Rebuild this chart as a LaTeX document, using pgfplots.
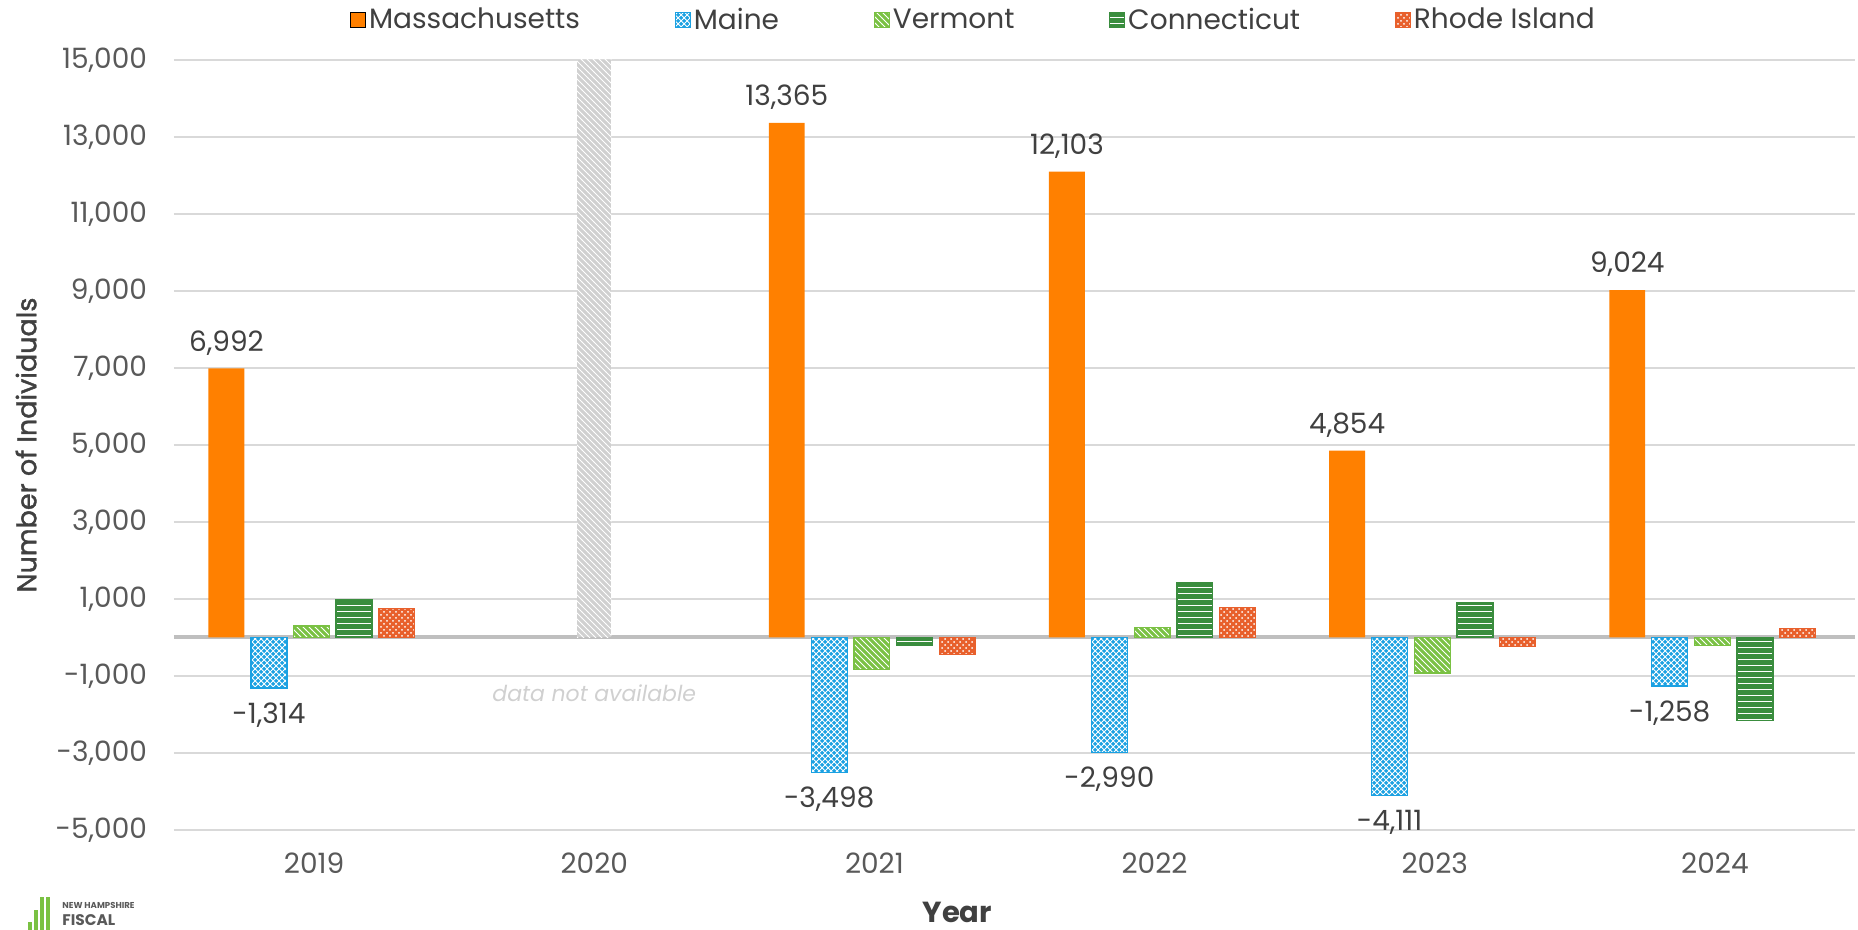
\documentclass[border=0pt]{standalone}
\usepackage{pgfplots}
\pgfplotsset{compat=1.18}
\usepackage{fontspec}
\setmainfont{Poppins}
\newfontfamily\labfont[FakeBold=1.5]{Poppins}
\usetikzlibrary{patterns}
\definecolor{cMA}{HTML}{FF8000}
\definecolor{cME}{HTML}{1BA1E2}
\definecolor{cVT}{HTML}{7AC143}
\definecolor{cCT}{HTML}{3A8D3E}
\definecolor{cRI}{HTML}{E8602C}
\definecolor{cNA}{HTML}{D0D0D0}
\definecolor{tickc}{HTML}{595959}
\definecolor{labc}{HTML}{404040}
\definecolor{gridc}{HTML}{D9D9D9}
\definecolor{zeroc}{HTML}{BFBFBF}
\pgfplotsset{
  sqleg/.style={legend image code/.code={\draw[##1, line width=0.4pt] (0pt,-3.75pt) rectangle (7.5pt,3.75pt);}},
}
\begin{document}
\begin{tikzpicture}
\begin{axis}[name=ax, scale only axis, width=840.5pt, height=385pt,
  xmin=-0.5, xmax=5.5, ymin=-5000, ymax=15000,
  scaled y ticks=false,
  axis line style={draw=none}, major tick length=0pt, tick style={draw=none},
  ytick={-5000,-3000,...,15000},
  yticklabels={{-5,000},{-3,000},{-1,000},{1,000},{3,000},{5,000},{7,000},{9,000},{11,000},{13,000},{15,000}},
  xtick={0,1,2,3,4,5}, xticklabels={2019,2020,2021,2022,2023,2024},
  ymajorgrids, grid style={gridc, line width=1pt},
  extra y ticks={0}, extra y tick labels={},
  extra y tick style={grid style={zeroc, line width=2pt}},
  ticklabel style={font=\fontsize{14}{16}\selectfont, text=tickc},
  yticklabel style={xshift=-10pt},
  xticklabel style={yshift=-8pt},
  ylabel={\labfont Number of Individuals},
  ylabel style={at={(axis description cs:-0.088,0.5)}, anchor=center, rotate=0, font=\fontsize{13.5}{16}\selectfont, text=labc},
  xlabel={\bfseries Year},
  xlabel style={at={(axis description cs:0.466,-0.107)}, anchor=center, font=\fontsize{14.5}{16}\selectfont, text=labc},
  ybar, bar width=0.128,
  legend columns=5,
  legend style={at={(0.4759,1.052)}, anchor=center, draw=none, fill=none,
    font=\fontsize{14}{16}\selectfont, text=labc,
    nodes={inner sep=1.5pt},
    /tikz/every even column/.append style={column sep=46pt}},
]
\addplot[fill=cMA, draw=none, bar shift=-0.313, sqleg,
  point meta=explicit symbolic, nodes near coords,
  every node near coord/.style={font=\fontsize{14}{16}\selectfont, text=labc, anchor=center, xshift=-43.8pt, yshift=12.8pt}]
  coordinates {(0,6992) [{6,992}] (2,13365) [{13,365}] (3,12103) [{12,103}] (4,4854) [{4,854}] (5,9024) [{9,024}]};
\addlegendentry{Massachusetts}
\addplot[fill=cME, draw=cME, line width=0.6pt, bar shift=-0.161, sqleg,
  postaction={pattern=crosshatch, pattern color=white},
  point meta=explicit symbolic, nodes near coords,
  every node near coord/.style={font=\fontsize{14}{16}\selectfont, text=labc, anchor=center, xshift=-22.6pt, yshift=-13.5pt}]
  coordinates {(0,-1314) [{-1,314}] (2,-3498) [{-3,498}] (3,-2990) [{-2,990}] (4,-4111) [{-4,111}] (5,-1258) [{-1,258}]};
\addlegendentry{Maine}
\addplot[fill=cVT, draw=cVT, line width=0.6pt, bar shift=-0.009, sqleg,
  postaction={pattern=north west lines, pattern color=white}]
  coordinates {(0,300) (2,-840) (3,250) (4,-920) (5,-200)};
\addlegendentry{Vermont}
\addplot[fill=cCT, draw=cCT, line width=0.8pt, bar shift=0.143, sqleg,
  postaction={pattern=horizontal lines, pattern color=white}]
  coordinates {(0,980) (2,-200) (3,1420) (4,910) (5,-2160)};
\addlegendentry{Connecticut}
\addplot[fill=cRI, draw=cRI, line width=0.6pt, bar shift=0.295, sqleg,
  postaction={pattern=crosshatch dots, pattern color=white}]
  coordinates {(0,750) (2,-440) (3,770) (4,-230) (5,230)};
\addlegendentry{Rhode Island}
\addplot[fill=cNA, draw=none, bar shift=0, bar width=0.122, forget plot,
  postaction={pattern=north west lines, pattern color=white}]
  coordinates {(1,15000)};
\node[font=\itshape\fontsize{11}{13}\selectfont, text=cNA] at (axis cs:1,-1450) {data not available};
\end{axis}
% logo
\fill[cVT] ([shift={(-73pt,-50pt)}]ax.south west) rectangle ([shift={(-71pt,-46pt)}]ax.south west);
\fill[cVT] ([shift={(-70pt,-50pt)}]ax.south west) rectangle ([shift={(-68pt,-40pt)}]ax.south west);
\fill[cVT] ([shift={(-67pt,-50pt)}]ax.south west) rectangle ([shift={(-65pt,-33.5pt)}]ax.south west);
\fill[cVT] ([shift={(-64pt,-50pt)}]ax.south west) rectangle ([shift={(-62pt,-33.5pt)}]ax.south west);
\node[anchor=west, inner sep=0pt, font=\bfseries\fontsize{4.3}{5}\selectfont, text=tickc] at ([shift={(-56pt,-37.5pt)}]ax.south west) {NEW HAMPSHIRE};
\node[anchor=west, inner sep=0pt, font=\bfseries\fontsize{7.7}{9}\selectfont, text=tickc] at ([shift={(-56pt,-45pt)}]ax.south west) {FISCAL};
\pgfresetboundingbox
\useasboundingbox ([shift={(-87pt,-50pt)}]ax.south west) rectangle ([shift={(1.5pt,30pt)}]ax.north east);
\end{tikzpicture}
\end{document}
